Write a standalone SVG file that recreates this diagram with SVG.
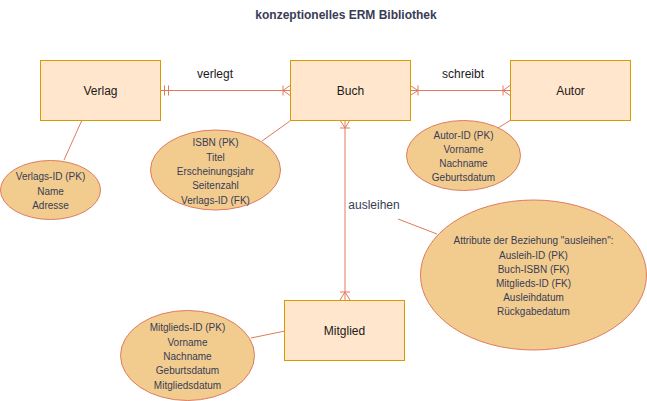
<svg xmlns="http://www.w3.org/2000/svg" width="647" height="401" viewBox="0 0 647 401">
<style>
.box{fill:#ffe6cc;stroke:#d79b00;stroke-width:1}
.ell{fill:#f2cc8f;stroke:#e07a5f;stroke-width:1}
.ln{fill:none;stroke:#e07a5f;stroke-width:1}
.bt{font-family:"Liberation Sans",Arial,sans-serif;font-size:12px;fill:#1a1a1a;text-anchor:middle;dominant-baseline:central}
.et{font-family:"Liberation Sans",Arial,sans-serif;font-size:10px;fill:#393c56;text-anchor:middle;dominant-baseline:central}
.lt{font-family:"Liberation Sans",Arial,sans-serif;font-size:12px;fill:#1a1a1a;text-anchor:middle;dominant-baseline:central}
.title{font-family:"Liberation Sans",Arial,sans-serif;font-size:12px;font-weight:bold;fill:#393c56;text-anchor:middle;dominant-baseline:central}
</style>
<rect width="647" height="401" fill="#ffffff"/>
<text class="title" x="346" y="15">konzeptionelles ERM Bibliothek</text>
<g id="connectors">
<line class="ln" x1="82" y1="120" x2="64" y2="160"/>
<line class="ln" x1="290" y1="121" x2="262" y2="141"/>
<line class="ln" x1="510" y1="120.5" x2="498" y2="128"/>
<line class="ln" x1="285" y1="331" x2="251" y2="338"/>
<line class="ln" x1="398" y1="219" x2="437" y2="234"/>
<!-- verlegt -->
<path class="ln" d="M160 90.5H290M164.5 85.5V95.5M168.5 85.5V95.5M283 85.5V95.5M283 90.5L290 85.5M283 90.5L290 95.5"/>
<!-- schreibt -->
<path class="ln" d="M410 90.5H510M418 85.5V95.5M418 90.5L410 85.5M418 90.5L410 95.5M503 85.5V95.5M503 90.5L510 85.5M503 90.5L510 95.5"/>
<!-- ausleihen -->
<path class="ln" d="M345 120V300M340 128H350M345 128L340 120M345 128L350 120M340 292H350M345 292L340 300M345 292L350 300"/>
<text class="lt" x="215" y="74">verlegt</text>
<text class="lt" x="463" y="74">schreibt</text>
<text class="lt" x="374" y="205" style="fill:#393c56">ausleihen</text>
</g>
<g id="verlag">
<rect class="box" x="40.5" y="60.5" width="120" height="60"/>
<text class="bt" x="100.5" y="90.5">Verlag</text>
</g>
<g id="buch">
<rect class="box" x="290.5" y="60.5" width="120" height="60"/>
<text class="bt" x="350.5" y="90.5">Buch</text>
</g>
<g id="autor">
<rect class="box" x="510.5" y="60.5" width="120" height="60"/>
<text class="bt" x="570.5" y="90.5">Autor</text>
</g>
<g id="mitglied">
<rect class="box" x="284.5" y="300.5" width="120" height="60"/>
<text class="bt" x="344.5" y="330.5">Mitglied</text>
</g>
<g id="verlag-attr">
<ellipse class="ell" cx="50.5" cy="190" rx="50" ry="29.5"/>
<text class="et" x="50.5" y="176.5">Verlags-ID (PK)</text>
<text class="et" x="50.5" y="191">Name</text>
<text class="et" x="50.5" y="205.5">Adresse</text>
</g>
<g id="buch-attr">
<ellipse class="ell" cx="215.5" cy="170" rx="65" ry="40"/>
<text class="et" x="215.5" y="142.5">ISBN (PK)</text>
<text class="et" x="215.5" y="157">Titel</text>
<text class="et" x="215.5" y="171">Erscheinungsjahr</text>
<text class="et" x="215.5" y="185.5">Seitenzahl</text>
<text class="et" x="215.5" y="200">Verlags-ID (FK)</text>
</g>
<g id="autor-attr">
<ellipse class="ell" cx="463.5" cy="155.5" rx="57" ry="35"/>
<text class="et" x="463.5" y="135">Autor-ID (PK)</text>
<text class="et" x="463.5" y="149">Vorname</text>
<text class="et" x="463.5" y="163.5">Nachname</text>
<text class="et" x="463.5" y="177.5">Geburtsdatum</text>
</g>
<g id="mitglied-attr">
<ellipse class="ell" cx="187.5" cy="355.5" rx="67" ry="45"/>
<text class="et" x="187.5" y="327.5">Mitglieds-ID (PK)</text>
<text class="et" x="187.5" y="342">Vorname</text>
<text class="et" x="187.5" y="356">Nachname</text>
<text class="et" x="187.5" y="370.5">Geburtsdatum</text>
<text class="et" x="187.5" y="385">Mitgliedsdatum</text>
</g>
<g id="ausleihen-attr">
<ellipse class="ell" cx="533.5" cy="275" rx="113" ry="75"/>
<text class="et" x="533.5" y="240">Attribute der Beziehung "ausleihen":</text>
<text class="et" x="533.5" y="255">Ausleih-ID (PK)</text>
<text class="et" x="533.5" y="269">Buch-ISBN (FK)</text>
<text class="et" x="533.5" y="283.5">Mitglieds-ID (FK)</text>
<text class="et" x="533.5" y="297.5">Ausleihdatum</text>
<text class="et" x="533.5" y="311.5">Rückgabedatum</text>
</g>
</svg>
